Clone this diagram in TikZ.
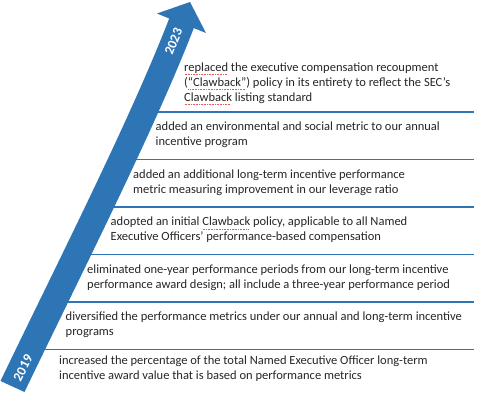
\documentclass[tikz,border=0pt]{standalone}
\usepackage{fontspec}
\setmainfont{Carlito}
\usepackage{xcolor}
\usepackage{tikz}
\usetikzlibrary{positioning, calc}

\definecolor{timeblue}{HTML}{2E75B6}
\definecolor{spellred}{HTML}{E8585E}

% red spell-check marks under a word
\newsavebox{\spellbox}
\newcommand{\spellmark}[1]{\sbox{\spellbox}{#1}\rlap{\raisebox{-3.3pt}{\color{spellred}\leaders\hbox to 1.6pt{\hss\rule{0.9pt}{0.7pt}\hss}\hskip\wd\spellbox}}\usebox{\spellbox}}

\begin{document}
\begin{tikzpicture}[
    x=1pt, y=-1pt,
    entry/.style={anchor=base west, inner sep=0pt, align=left, text=black!85, font=\fontsize{12.5}{15}\selectfont},
    sepline/.style={draw=timeblue, line width=1.8pt},
    band/.style={fill=timeblue, draw=none},
    yearlabel/.style={text=white, inner sep=0pt, font=\bfseries\fontsize{13.5}{14}\selectfont}
]

\useasboundingbox (0,0) rectangle (480,393);

% Separator lines (drawn first, the band covers their left ends)
\draw[sepline] (145,112) -- (474,112);
\draw[sepline] (123,159.5) -- (474,159.5);
\draw[sepline] (100,207) -- (474,207);
\draw[sepline] (78,254.5) -- (474,254.5);
\draw[sepline] (56,302) -- (474,302);
\draw[sepline] (34,349.5) -- (474,349.5);

% Rising band with arrow head
\fill[band] (0.5,381) .. controls (56.8,263.9) and (129.6,120.8) .. (169.2,18.5)
    -- (157,13.5) -- (190,2) -- (206,33) -- (193.8,28.1)
    .. controls (154.2,130.4) and (80.8,274.9) .. (24.5,392) -- cycle;

% Years on the band
\node[yearlabel, rotate=68] (y2023) at (173.5,41.5) {2023};
\node[yearlabel, rotate=63] (y2019) at (23,368) {2019};

% Entries, newest at the top (placed at the baseline of their last line)
\node[entry] (clawbackrev) at (184,101.5) {\spellmark{replaced} the executive compensation recoupment\\(\spellmark{“Clawback”}) policy in its entirety to reflect the SEC’s\\\spellmark{Clawback} listing standard};
\node[entry] (esgmetric) at (155.5,146) {added an environmental and social metric to our annual\\incentive program};
\node[entry] (leverage) at (133,194) {added an additional long-term incentive performance\\metric measuring improvement in our leverage ratio};
\node[entry] (clawback) at (110.5,241) {adopted an initial \spellmark{Clawback} policy, applicable to all Named\\Executive Officers’ performance-based compensation};
\node[entry] (oneyear) at (87,289) {eliminated one-year performance periods from our long-term incentive\\performance award design; all include a three-year performance period};
\node[entry] (diversify) at (65.5,335) {diversified the performance metrics under our annual and long-term incentive\\programs};
\node[entry] (pshare) at (59,379) {increased the percentage of the total Named Executive Officer long-term\\incentive award value that is based on performance metrics};

\end{tikzpicture}
\end{document}
